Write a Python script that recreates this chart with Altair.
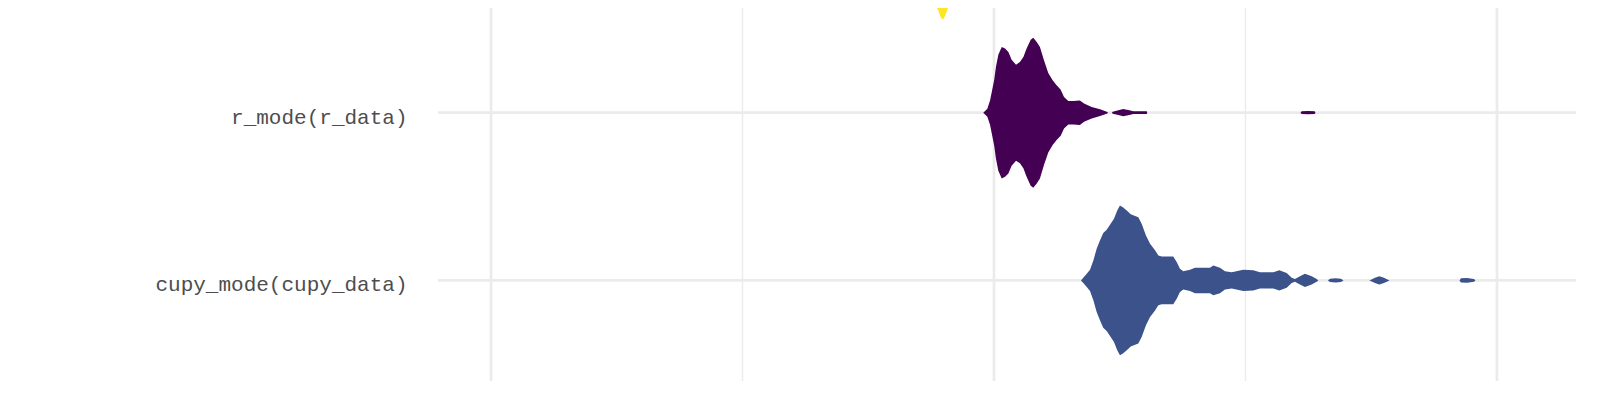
import altair as alt
import pandas as pd

# Expression labels (bottom to top) and their fill colours (viridis)
labels = ["cupy_mode(cupy_data)", "r_mode(r_data)"]
row_ids = [1, 2, 3]
fill_colors = ["#3B528B", "#440154", "#FDE725"]
expr_names = ["cupy_mode(cupy_data)", "r_mode(r_data)", "top_expr"]

# Violin profiles: time (log axis units) and half-width of the density (row units)
cupy_t = [14.89, 15.05, 15.29, 15.52, 15.76, 16.00, 16.25, 16.49, 16.75, 17.06,
          17.32, 17.58, 17.80, 18.07, 18.41, 18.70, 19.36, 19.66, 20.05, 20.43,
          20.90, 21.22, 21.55, 22.72, 23.08, 23.43, 23.79, 24.53, 25.10, 26.88,
          27.29, 28.14, 28.79, 29.69, 31.31, 32.77, 33.79, 35.92, 36.92, 38.19,
          39.07, 39.67, 40.58, 41.52, 42.82, 43.81, 44.13,
          46.13, 46.56, 47.75, 48.96, 49.53,
          55.79, 57.21, 58.35, 59.61, 61.13,
          84.23, 84.81, 87.17, 90.01, 90.63]
cupy_w = [0.000, 0.016, 0.040, 0.064, 0.119, 0.189, 0.239, 0.282, 0.302, 0.338,
          0.368, 0.417, 0.447, 0.434, 0.413, 0.394, 0.377, 0.338, 0.268, 0.219,
          0.179, 0.149, 0.143, 0.143, 0.109, 0.070, 0.055, 0.064, 0.076, 0.076,
          0.088, 0.076, 0.055, 0.049, 0.064, 0.060, 0.049, 0.049, 0.060, 0.044,
          0.016, 0.008, 0.024, 0.040, 0.024, 0.008, 0.000,
          0.000, 0.010, 0.012, 0.010, 0.000,
          0.000, 0.015, 0.024, 0.015, 0.000,
          0.000, 0.012, 0.014, 0.008, 0.000]

r_t = [9.52, 9.70, 9.82, 9.91, 10.01, 10.09, 10.20, 10.36, 10.52, 10.68,
       10.84, 11.06, 11.26, 11.44, 11.61, 11.83, 11.97, 12.16, 12.34, 12.57,
       12.82, 13.08, 13.32, 13.57, 13.78, 14.05, 14.38, 14.82, 15.10, 15.64,
       16.25, 16.75, 16.87, 17.16, 17.22, 17.67, 18.07, 18.58, 18.92, 20.12,
       20.17, 40.68, 40.90, 42.10, 43.40, 43.57]
r_w = [0.000, 0.024, 0.072, 0.131, 0.197, 0.274, 0.346, 0.392, 0.382, 0.362,
       0.316, 0.286, 0.302, 0.332, 0.382, 0.435, 0.447, 0.422, 0.392, 0.312,
       0.237, 0.193, 0.163, 0.137, 0.094, 0.070, 0.070, 0.073, 0.054, 0.034,
       0.020, 0.006, 0.000, 0.000, 0.006, 0.014, 0.022, 0.014, 0.008, 0.008,
       0.000, 0.000, 0.008, 0.010, 0.008, 0.000]

top_t = [7.127, 7.393, 7.564, 7.633, 7.704, 7.757, 7.810, 7.864, 7.900, 7.955,
         8.009, 8.065, 8.120, 8.176, 8.251, 8.442, 8.757]
top_w = [0.000, 0.179, 0.310, 0.346, 0.376, 0.394, 0.420, 0.438, 0.444, 0.435,
         0.417, 0.391, 0.370, 0.346, 0.310, 0.179, 0.000]

# Grid breaks (log scale)
major_breaks = [1, 10, 100]
minor_breaks = [3.162, 31.62]

frames = []
for name, rid, ts, ws in [(expr_names[0], row_ids[0], cupy_t, cupy_w),
                          (expr_names[1], row_ids[1], r_t, r_w),
                          (expr_names[2], row_ids[2], top_t, top_w)]:
    frames.append(pd.DataFrame({"expr": name, "row": rid, "t": ts, "w": ws}))
violins = pd.concat(frames, ignore_index=True)

x_scale = alt.Scale(type="log", domain=[0.7844, 143.6], nice=False)
y_scale = alt.Scale(domain=[0.4, 2.6242], nice=False, zero=False)

label_expr = " : ".join(
    [f"datum.value == {r} ? '{l}'" for r, l in zip(row_ids, labels)]
) + " : ''"

y_axis = alt.Axis(values=row_ids[:2], labelExpr=label_expr, ticks=False,
                  domain=False, grid=False, title=None,
                  labelFont="Liberation Mono", labelFontSize=21,
                  labelColor="#4d4d4d", labelPadding=31, labelLimit=500,
                  labelBaseline="alphabetic", labelOffset=10.5)

grid_color = "#EBEBEB"

vmajor = alt.Chart(pd.DataFrame({"t": major_breaks})).mark_rule(
    color=grid_color, strokeWidth=2.7, clip=True
).encode(x=alt.X("t:Q", scale=x_scale, axis=None))

vminor = alt.Chart(pd.DataFrame({"t": minor_breaks})).mark_rule(
    color=grid_color, strokeWidth=1.4, clip=True
).encode(x=alt.X("t:Q", scale=x_scale, axis=None))

hgrid = alt.Chart(pd.DataFrame({"row": row_ids})).mark_rule(
    color=grid_color, strokeWidth=2.7, clip=True
).encode(y=alt.Y("row:Q", scale=y_scale, axis=y_axis))

violin = alt.Chart(violins).transform_calculate(
    hi="datum.row + datum.w", lo="datum.row - datum.w"
).mark_area(orient="vertical", clip=True, interpolate="linear").encode(
    x=alt.X("t:Q", scale=x_scale, axis=None),
    y=alt.Y("hi:Q", scale=y_scale, axis=y_axis, stack=None),
    y2="lo:Q",
    color=alt.Color("expr:N", scale=alt.Scale(domain=expr_names, range=fill_colors),
                    legend=None),
)

chart = alt.layer(vmajor, vminor, hgrid, violin).properties(
    width=1138, height=373,
    autosize=alt.AutoSizeParams(type="none"),
    padding={"left": 430, "top": 0, "right": 0, "bottom": 0},
    background="white",
).configure_view(stroke=None)

chart.save("out.html", embed_options={"renderer": "svg", "actions": False})
